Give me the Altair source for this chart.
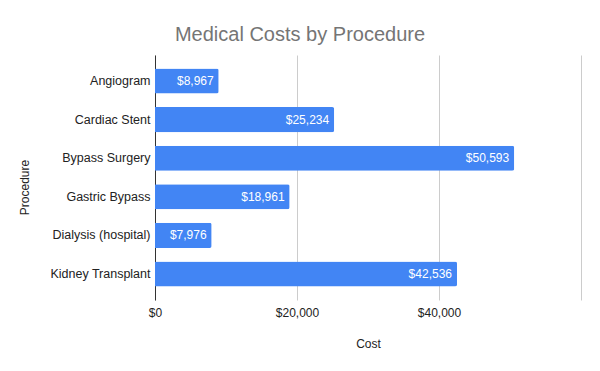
import altair as alt
import pandas as pd

procedures = ["Angiogram", "Cardiac Stent", "Bypass Surgery", "Gastric Bypass",
              "Dialysis (hospital)", "Kidney Transplant"]
costs = [8967, 25234, 50593, 18961, 7976, 42536]
x_ticks = [0, 20000, 40000, 60000]

df = pd.DataFrame({"Procedure": procedures, "Cost": costs})

FONT = "Liberation Sans"

base = alt.Chart(df).transform_calculate(
    label="'$' + format(datum.Cost, ',')"
)

y_enc = alt.Y(
    "Procedure:N", sort=None, title="Procedure",
    scale=alt.Scale(paddingInner=0.35, paddingOuter=0.35),
    axis=alt.Axis(
        domain=True, domainColor="#333333", domainWidth=1,
        ticks=False, labelPadding=5, labelFontSize=12.5, labelColor="#222222",
        labelFont=FONT, titleFont=FONT, titleFontSize=12, titleFontWeight="normal",
        titleColor="#222222", titleX=-124, titleY=132, titleAngle=-90,
        titleBaseline="bottom", titleAlign="center",
    ),
)

x_enc = alt.X(
    "Cost:Q", title="Cost",
    scale=alt.Scale(domain=[0, 60000], nice=False),
    axis=alt.Axis(
        values=x_ticks, domain=False, ticks=False, grid=True, gridColor="#cccccc",
        labelExpr="datum.value == 60000 ? '' : '$' + format(datum.value, ',')",
        labelFlush=False, labelOverlap=False,
        labelPadding=7, labelFontSize=12, labelColor="#222222", labelFont=FONT,
        titleFont=FONT, titleFontSize=12, titleFontWeight="normal", titleColor="#222222",
        titleY=38, titleBaseline="top",
    ),
)

bars = base.mark_bar(color="#4285F4", cornerRadiusEnd=2).encode(x=x_enc, y=y_enc)

labels = base.mark_text(
    align="right", baseline="middle", dx=-5, color="white", fontSize=12, font=FONT
).encode(x="Cost:Q", y=alt.Y("Procedure:N", sort=None), text="label:N")

chart = alt.layer(bars, labels).properties(
    width=426, height=245,
    autosize=alt.AutoSizeParams(type="none"),
    padding={"left": 147, "top": 47, "right": 11, "bottom": 63},
    title=alt.TitleParams(
        "Medical Costs by Procedure", anchor="middle", fontSize=20,
        color="#757575", font=FONT, fontWeight="normal", dx=-68, offset=10,
    ),
).configure_view(stroke=None)

chart.save("out.html", embed_options={"renderer": "svg", "actions": False})
